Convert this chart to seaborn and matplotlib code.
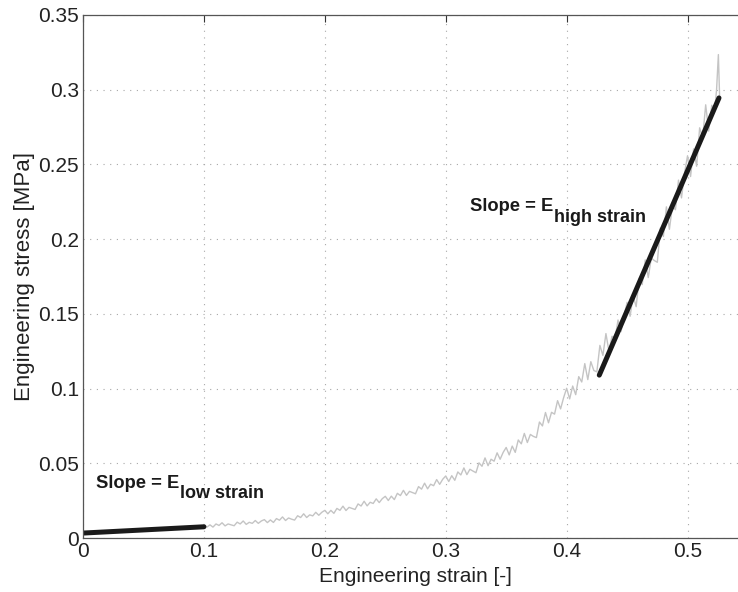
import numpy as np
import pandas as pd
import matplotlib
matplotlib.use('Agg')
import matplotlib.pyplot as plt
import seaborn as sns

strain = [
    0.1000, 0.1025, 0.1050, 0.1075, 0.1100, 0.1125, 0.1150, 0.1175, 0.1200, 0.1225,
    0.1250, 0.1275, 0.1300, 0.1325, 0.1350, 0.1375, 0.1400, 0.1425, 0.1450, 0.1475,
    0.1500, 0.1525, 0.1550, 0.1575, 0.1600, 0.1625, 0.1650, 0.1675, 0.1700, 0.1725,
    0.1750, 0.1775, 0.1800, 0.1825, 0.1850, 0.1875, 0.1900, 0.1925, 0.1950, 0.1975,
    0.2000, 0.2025, 0.2050, 0.2075, 0.2100, 0.2125, 0.2150, 0.2175, 0.2200, 0.2225,
    0.2250, 0.2275, 0.2300, 0.2325, 0.2350, 0.2375, 0.2400, 0.2425, 0.2450, 0.2475,
    0.2500, 0.2525, 0.2550, 0.2575, 0.2600, 0.2625, 0.2650, 0.2675, 0.2700, 0.2725,
    0.2750, 0.2775, 0.2800, 0.2825, 0.2850, 0.2875, 0.2900, 0.2925, 0.2950, 0.2975,
    0.3000, 0.3025, 0.3050, 0.3075, 0.3100, 0.3125, 0.3150, 0.3175, 0.3200, 0.3225,
    0.3250, 0.3275, 0.3300, 0.3325, 0.3350, 0.3375, 0.3400, 0.3425, 0.3450, 0.3475,
    0.3500, 0.3525, 0.3550, 0.3575, 0.3600, 0.3625, 0.3650, 0.3675, 0.3700, 0.3725,
    0.3750, 0.3775, 0.3800, 0.3825, 0.3850, 0.3875, 0.3900, 0.3925, 0.3950, 0.3975,
    0.4000, 0.4025, 0.4050, 0.4075, 0.4100, 0.4125, 0.4150, 0.4175, 0.4200, 0.4225,
    0.4250, 0.4275, 0.4300, 0.4325, 0.4350, 0.4375, 0.4400, 0.4425, 0.4450, 0.4475,
    0.4500, 0.4525, 0.4550, 0.4575, 0.4600, 0.4625, 0.4650, 0.4675, 0.4700, 0.4725,
    0.4750, 0.4775, 0.4800, 0.4825, 0.4850, 0.4875, 0.4900, 0.4925, 0.4950, 0.4975,
    0.5000, 0.5025, 0.5050, 0.5075, 0.5100, 0.5125, 0.5150, 0.5175, 0.5200, 0.5225,
    0.5240, 0.5255, 0.5265,
]
stress = [
    0.0091, 0.0073, 0.0088, 0.0073, 0.0094, 0.0084, 0.0102, 0.0081, 0.0094, 0.0088,
    0.0082, 0.0106, 0.0094, 0.0114, 0.0091, 0.0105, 0.0098, 0.0117, 0.0098, 0.0114,
    0.0123, 0.0103, 0.0121, 0.0104, 0.0130, 0.0119, 0.0141, 0.0117, 0.0134, 0.0126,
    0.0120, 0.0149, 0.0137, 0.0162, 0.0137, 0.0155, 0.0148, 0.0172, 0.0152, 0.0172,
    0.0185, 0.0162, 0.0185, 0.0165, 0.0198, 0.0185, 0.0213, 0.0184, 0.0205, 0.0198,
    0.0191, 0.0228, 0.0214, 0.0246, 0.0215, 0.0239, 0.0231, 0.0262, 0.0237, 0.0263,
    0.0279, 0.0251, 0.0280, 0.0257, 0.0299, 0.0284, 0.0319, 0.0285, 0.0312, 0.0304,
    0.0296, 0.0344, 0.0327, 0.0367, 0.0329, 0.0360, 0.0350, 0.0391, 0.0359, 0.0393,
    0.0415, 0.0378, 0.0417, 0.0386, 0.0442, 0.0422, 0.0469, 0.0424, 0.0460, 0.0448,
    0.0437, 0.0503, 0.0480, 0.0536, 0.0484, 0.0527, 0.0514, 0.0570, 0.0527, 0.0573,
    0.0606, 0.0556, 0.0615, 0.0573, 0.0656, 0.0630, 0.0700, 0.0639, 0.0693, 0.0680,
    0.0672, 0.0776, 0.0750, 0.0840, 0.0771, 0.0841, 0.0829, 0.0919, 0.0864, 0.0939,
    0.1002, 0.0931, 0.1017, 0.0959, 0.1080, 0.1044, 0.1167, 0.1060, 0.1180, 0.1121,
    0.1112, 0.1289, 0.1222, 0.1368, 0.1250, 0.1350, 0.1333, 0.1459, 0.1381, 0.1487,
    0.1577, 0.1484, 0.1623, 0.1548, 0.1738, 0.1696, 0.1861, 0.1743, 0.1873, 0.1857,
    0.1845, 0.2074, 0.2018, 0.2216, 0.2066, 0.2221, 0.2197, 0.2395, 0.2276, 0.2442,
    0.2558, 0.2419, 0.2604, 0.2488, 0.2745, 0.2678, 0.2899, 0.2723, 0.2896, 0.2865,
    0.3000, 0.3235, 0.2960,
]

# Fitted slope lines
low_strain = [0.0, 0.1]
low_stress = [0.0033, 0.0075]
high_strain = [0.427, 0.526]
high_stress = [0.109, 0.2945]

x_ticks = [0, 0.1, 0.2, 0.3, 0.4, 0.5]
y_ticks = [0, 0.05, 0.1, 0.15, 0.2, 0.25, 0.3, 0.35]

sns.set_style('white')
plt.rcParams['font.family'] = ['Liberation Sans', 'DejaVu Sans']

fig = plt.figure(figsize=(7.38, 5.92), dpi=100)
ax = fig.add_axes([83 / 738, 54 / 592, 665 / 738, 523 / 592])

df = pd.DataFrame({'strain': strain, 'stress': stress})
sns.lineplot(data=df, x='strain', y='stress', color='#c4c4c4', lw=1.0,
             estimator=None, sort=False, ax=ax)
sns.lineplot(x=low_strain, y=low_stress, color='#1a1a1a', lw=3.6, ax=ax)
sns.lineplot(x=high_strain, y=high_stress, color='#1a1a1a', lw=3.6, ax=ax)

ax.set_xlim(0, 0.55)
ax.set_ylim(0, 0.35)
ax.set_xticks(x_ticks)
ax.set_yticks(y_ticks)
ax.set_xticklabels([f'{v:g}' for v in x_ticks])
ax.set_yticklabels([f'{v:g}' for v in y_ticks])
ax.grid(True, color='#a8a8a8', linestyle=(0, (1, 5)), lw=0.8)
ax.tick_params(direction='in', length=5, width=0.8, colors='#333333',
               labelsize=15, labelcolor='#222222', top=True, right=True, pad=3)
for s in ax.spines.values():
    s.set_color('#555555')
    s.set_linewidth(0.9)

ax.set_xlabel('Engineering strain [-]', fontsize=15, color='#222222', labelpad=4)
ax.set_ylabel('Engineering stress [MPa]', fontsize=16, color='#222222', labelpad=2)

# Slope annotations
ax.text(0.011, 0.0335, 'Slope = E', fontsize=13.2, fontweight='bold', color='#1a1a1a')
ax.text(0.0805, 0.0265, 'low strain', fontsize=13, fontweight='bold', color='#1a1a1a')
ax.text(0.320, 0.2185, 'Slope = E', fontsize=13.2, fontweight='bold', color='#1a1a1a')
ax.text(0.3895, 0.2115, 'high strain', fontsize=13, fontweight='bold', color='#1a1a1a')

fig.savefig('out.png', dpi=100)
